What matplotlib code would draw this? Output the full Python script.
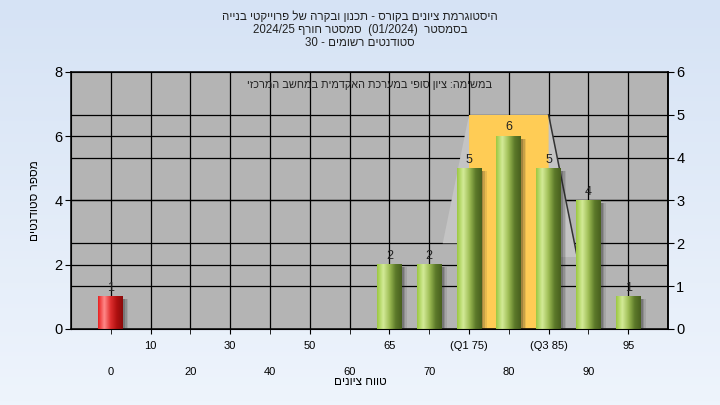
import re
import numpy as np
import matplotlib
matplotlib.use("Agg")
import matplotlib.pyplot as plt
from matplotlib.colors import LinearSegmentedColormap
from matplotlib.patches import Polygon, Rectangle

# data
categories = ['0', '10', '20', '30', '40', '50', '60', '65', '70', '75', '80', '85', '90', '95']
tick_labels = ['0', '10', '20', '30', '40', '50', '60', '65', '70', '(Q1 75)', '80', '(Q3 85)', '90', '95']
counts = [1, 0, 0, 0, 0, 0, 0, 2, 2, 5, 6, 5, 4, 1]
fail_categories = ['0']
q1_cat, q3_cat = '75', '85'
box_top = 5            # on the right axis
left_max, right_max = 8, 6

title_lines = ['היסטוגרמת ציונים בקורס - תכנון ובקרה של פרוייקטי בנייה',
               'בסמסטר  (01/2024)  סמסטר חורף 2024/25',
               'סטודנטים רשומים - 30']
note = 'במשימה: ציון סופי במערכת האקדמית במחשב המרכזי'
xlabel = 'טווח ציונים'
ylabel = 'מספר סטודנטים'


def rtl(s):
    # matplotlib has no bidi, so write the hebrew in visual order
    r = s[::-1]
    r = re.sub(r'[0-9/.]+', lambda m: m.group(0)[::-1], r)
    return r.translate(str.maketrans('()', ')('))


plt.rcParams['font.family'] = ['Liberation Sans', 'DejaVu Sans']

fig = plt.figure(figsize=(7.2, 4.05), dpi=100)

# light blue background
bg = fig.add_axes([0, 0, 1, 1], zorder=-10)
bg.imshow(np.linspace(0, 1, 100).reshape(-1, 1), aspect='auto', extent=[0, 1, 0, 1],
          cmap=LinearSegmentedColormap.from_list('bg', ['#d6e3f5', '#eef4fc']))
bg.axis('off')

ax = fig.add_axes([0.0986, 0.1877, 0.8292, 0.6346])
ax.set_facecolor('#b4b4b4')
k = left_max / right_max

x = np.arange(len(categories))

# grid
glw = 0.9
for xi in x:
    ax.axvline(xi, color='black', lw=glw, zorder=1)
for yv in range(2, left_max, 2):
    ax.axhline(yv, color='black', lw=glw, zorder=1)
for rv in range(1, right_max):
    ax.axhline(rv * k, color='black', lw=glw, zorder=1)

# quartile box and whisker shading
i1, i3 = categories.index(q1_cat), categories.index(q3_cat)
ax.add_patch(Rectangle((i1, 0), i3 - i1, box_top * k, facecolor='#ffcc55',
                       edgecolor='none', zorder=2))
ax.add_patch(Polygon([(i1, box_top * k), (i1 - 0.66, 2.0 * k), (i1, 2.0 * k)],
                     closed=True, facecolor='#c4c4c4', edgecolor='none', zorder=2))
ax.add_patch(Polygon([(i3, box_top * k), (i3 + 0.72, 1.68 * k), (i3, 1.68 * k)],
                     closed=True, facecolor='#c4c4c4', edgecolor='none', zorder=2))
ax.plot([i3, i3 + 0.72], [box_top * k, 1.68 * k], color='#333333', lw=1.1, zorder=2.5)

# bars with a cylinder look
green = LinearSegmentedColormap.from_list('g', ['#9cc842', '#d4eb98', '#9ebd55', '#5d7a2a', '#48601e'])
red = LinearSegmentedColormap.from_list('r', ['#e82020', '#ff8a8a', '#e03030', '#b01010', '#8a0a0a'])
grad = np.linspace(0, 1, 64).reshape(1, -1)
w = 0.62
for xi, cat, v in zip(x, categories, counts):
    if v <= 0:
        continue
    for j, a in enumerate([0.22, 0.16, 0.10]):
        off = 0.05 + 0.04 * j
        ax.add_patch(Rectangle((xi - w / 2 + off, 0), w, v - 0.08, facecolor='#202020',
                               alpha=a, edgecolor='none', zorder=2.8))
    cmap = red if cat in fail_categories else green
    ax.imshow(grad, extent=[xi - w / 2, xi + w / 2, 0, v], aspect='auto', cmap=cmap,
              zorder=3, interpolation='bilinear')
    ax.annotate(str(v), (xi, v), xytext=(0, 2), textcoords='offset points',
                ha='center', va='bottom', fontsize=9, color='#222222', zorder=5)

ax.set_xlim(-1, len(categories))
ax.set_ylim(0, left_max)

# x ticks in two rows
ax.set_xticks(x[1::2])
ax.set_xticklabels(tick_labels[1::2])
ax.set_xticks(x[0::2], minor=True)
ax.set_xticklabels(tick_labels[0::2], minor=True)
ax.tick_params(axis='x', which='major', length=3.5, pad=5, labelsize=8)
ax.tick_params(axis='x', which='minor', length=3.5, pad=24, labelsize=8)
ax.set_yticks(range(0, left_max + 1, 2))
ax.tick_params(axis='y', length=4, labelsize=10.5, pad=2)
for s in ax.spines.values():
    s.set_color('black')
    s.set_linewidth(1.1)

ax2 = ax.twinx()
ax2.set_ylim(0, right_max)
ax2.set_yticks(range(0, right_max + 1))
ax2.tick_params(axis='y', length=4, labelsize=10.5, pad=2)
ax2.spines['right'].set_linewidth(1.1)

ax.text(0.5, 0.95, rtl(note), transform=ax.transAxes, ha='center', va='center',
        fontsize=7.8, color='#222222', zorder=6)

for i, line in enumerate(title_lines):
    fig.text(0.5, 1 - (17 + 13 * i) / 405, rtl(line), ha='center', va='center',
             fontsize=8.3, color='#222222')

fig.text(360 / 720, 1 - 382 / 405, rtl(xlabel), ha='center', va='center', fontsize=8.5)
fig.text(35 / 720, 1 - 201 / 405, rtl(ylabel), ha='center', va='center', fontsize=8.5,
         rotation=90)

fig.savefig('out.png', dpi=100)
